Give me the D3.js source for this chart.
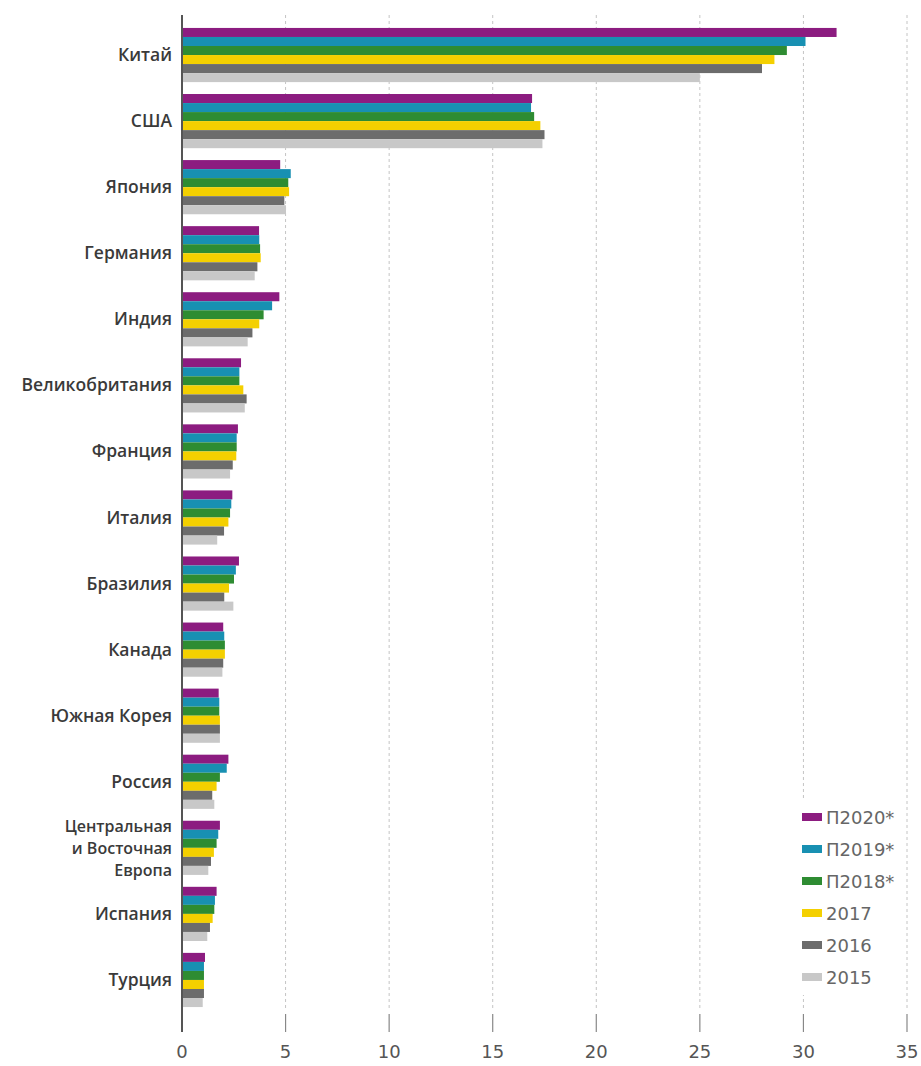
<!DOCTYPE html>
<html>
<head>
<meta charset="utf-8">
<script src="https://cdn.jsdelivr.net/npm/d3@7"></script>
<style>
  body { margin: 0; background: #fff; }
  .country { font-family: "Open Sans", "Noto Sans", sans-serif; font-size: 17.5px; font-weight: 600; fill: #3a3a3a; }
  .country.multi { font-size: 16px; }
  .tick-label { font-family: "DejaVu Sans", Verdana, sans-serif; font-size: 18px; fill: #555; }
  .legend-label { font-family: "DejaVu Sans", Verdana, sans-serif; font-size: 18px; fill: #666; }
</style>
</head>
<body>
<div id="chart"></div>
<script>
const WIDTH = 921
const HEIGHT = 1066
const X0 = 182
const X1 = 907
const TOP = 22
const BOTTOM = 1013

const countries = ['Китай', 'США', 'Япония', 'Германия', 'Индия', 'Великобритания', 'Франция',
  'Италия', 'Бразилия', 'Канада', 'Южная Корея', 'Россия',
  'Центральная\nи Восточная\nЕвропа', 'Испания', 'Турция']

const seriesNames = ['П2020*', 'П2019*', 'П2018*', '2017', '2016', '2015']
const seriesColors = ['#8c1c80', '#1890b2', '#2e8c32', '#f4d000', '#6c6c6c', '#c8c8c8']

const p2020 = [31.6, 16.9, 4.74, 3.72, 4.70, 2.85, 2.70, 2.43, 2.75, 1.99, 1.77, 2.24, 1.83, 1.67, 1.11]
const p2019 = [30.1, 16.85, 5.25, 3.73, 4.35, 2.77, 2.64, 2.38, 2.60, 2.04, 1.80, 2.16, 1.75, 1.59, 1.06]
const p2018 = [29.2, 17.0, 5.13, 3.77, 3.94, 2.77, 2.64, 2.32, 2.51, 2.07, 1.80, 1.83, 1.67, 1.56, 1.06]
const y2017 = [28.6, 17.3, 5.17, 3.80, 3.73, 2.96, 2.62, 2.24, 2.27, 2.07, 1.83, 1.67, 1.54, 1.48, 1.06]
const y2016 = [28.0, 17.5, 4.94, 3.64, 3.40, 3.12, 2.45, 2.03, 2.04, 1.99, 1.83, 1.46, 1.40, 1.35, 1.06]
const y2015 = [25.0, 17.4, 5.02, 3.51, 3.17, 3.03, 2.32, 1.70, 2.48, 1.95, 1.83, 1.56, 1.27, 1.22, 1.00]

const seriesValues = [p2020, p2019, p2018, y2017, y2016, y2015]
const xTicks = [0, 5, 10, 15, 20, 25, 30, 35]

const main = _ => {
    const svg = d3.select('#chart')
        .append('svg')
        .attr('width', WIDTH)
        .attr('height', HEIGHT)

    const x = d3.scaleLinear()
        .domain([0, 35])
        .range([X0, X1])

    const y = d3.scaleBand()
        .domain(countries)
        .range([TOP, BOTTOM])
        .paddingInner(0.18)
        .paddingOuter(0.09)

    const inner = d3.scaleBand()
        .domain(seriesNames)
        .range([0, y.bandwidth()])

    // dashed grid
    svg.append('g')
        .selectAll('line')
        .data(xTicks.slice(1))
        .enter()
        .append('line')
        .attr('x1', d => x(d))
        .attr('x2', d => x(d))
        .attr('y1', 15)
        .attr('y2', 1010)
        .attr('stroke', '#c4c4c4')
        .attr('stroke-width', 1)
        .attr('stroke-dasharray', '3,3')

    // tick marks
    svg.append('g')
        .selectAll('line')
        .data(xTicks.slice(1))
        .enter()
        .append('line')
        .attr('x1', d => x(d))
        .attr('x2', d => x(d))
        .attr('y1', 1014)
        .attr('y2', 1032)
        .attr('stroke', '#888')
        .attr('stroke-width', 1.2)

    svg.append('g')
        .selectAll('text')
        .data(xTicks)
        .enter()
        .append('text')
        .attr('class', 'tick-label')
        .attr('x', d => x(d))
        .attr('y', 1058)
        .attr('text-anchor', 'middle')
        .text(d => d)

    // bars
    const groups = svg.append('g')
        .selectAll('g')
        .data(countries)
        .enter()
        .append('g')
        .attr('transform', d => `translate(0, ${y(d)})`)

    groups.selectAll('rect')
        .data((c, ci) => seriesNames.map((s, si) => ({ s, si, v: seriesValues[si][ci] })))
        .enter()
        .append('rect')
        .attr('x', x(0))
        .attr('y', d => inner(d.s))
        .attr('width', d => x(d.v) - x(0))
        .attr('height', inner.bandwidth())
        .attr('fill', d => seriesColors[d.si])

    // zero axis line
    svg.append('line')
        .attr('x1', x(0))
        .attr('x2', x(0))
        .attr('y1', 15)
        .attr('y2', 1032)
        .attr('stroke', '#555')
        .attr('stroke-width', 2)

    // country labels
    const labels = svg.append('g')
        .selectAll('text')
        .data(countries)
        .enter()
        .append('text')
        .attr('class', d => d.includes('\n') ? 'country multi' : 'country')
        .attr('text-anchor', 'end')
        .attr('x', 172)
        .attr('y', d => y(d) + y.bandwidth() / 2)

    labels.each(function (d) {
        const lines = d.split('\n')
        const lh = 22
        d3.select(this).selectAll('tspan')
            .data(lines)
            .enter()
            .append('tspan')
            .attr('x', 172)
            .attr('dy', (l, i) => i === 0 ? (-(lines.length - 1) * lh / 2 + 6) : lh)
            .text(l => l)
    })

    // legend
    const legend = svg.append('g')
        .attr('transform', 'translate(796, 800)')

    legend.append('rect')
        .attr('x', 0)
        .attr('y', 0)
        .attr('width', 110)
        .attr('height', 195)
        .attr('fill', '#fff')

    const items = legend.selectAll('g')
        .data(seriesNames)
        .enter()
        .append('g')
        .attr('transform', (d, i) => `translate(6, ${17 + i * 32})`)

    items.append('rect')
        .attr('x', 0)
        .attr('y', -4)
        .attr('width', 20)
        .attr('height', 8)
        .attr('fill', (d, i) => seriesColors[i])

    items.append('text')
        .attr('class', 'legend-label')
        .attr('x', 24)
        .attr('y', 7)
        .text(d => d)
}

document.addEventListener('DOMContentLoaded', main)
</script>
</body>
</html>
